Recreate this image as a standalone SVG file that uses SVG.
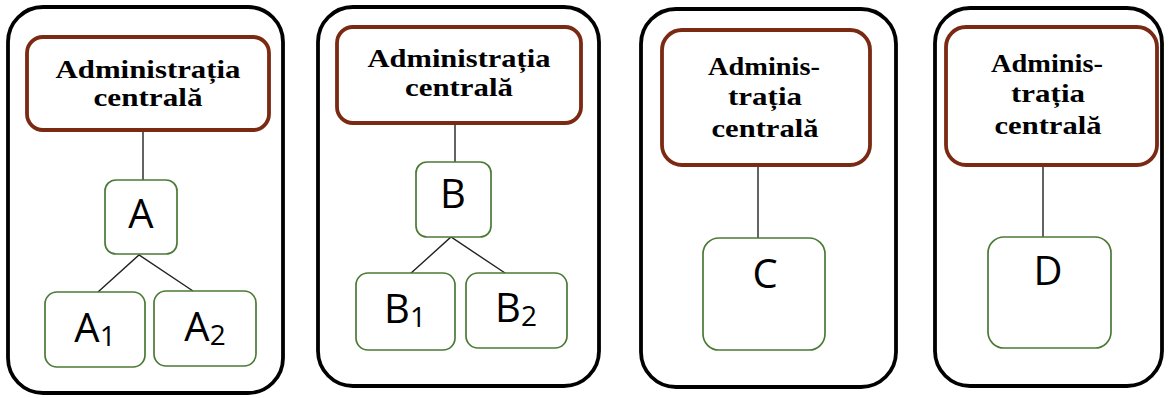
<svg xmlns="http://www.w3.org/2000/svg" width="1170" height="398" viewBox="0 0 1170 398">
<style>
.outer{fill:#fff;stroke:#000;stroke-width:3.8}
.admin{fill:#fff;stroke:#7a2a12;stroke-width:3.8}
.unit{fill:#fff;stroke:#4b7a35;stroke-width:1.7}
.conn{stroke:#222;stroke-width:1.4;fill:none}
.at{font-family:"Liberation Serif","Times New Roman",serif;font-weight:bold;font-size:26px;fill:#000;text-anchor:middle}
.ut{font-family:"Open Sans","Liberation Sans",sans-serif;font-size:40px;fill:#000;text-anchor:middle}
.sub{font-size:28px}
</style>
<rect width="1170" height="398" fill="#fff"/>
<g id="panel-1">
<rect class="outer" x="8" y="7" width="275" height="386" rx="35"/>
</g>
<g id="panel-2">
<rect class="outer" x="318" y="7" width="281" height="379" rx="35"/>
</g>
<g id="panel-3">
<rect class="outer" x="641" y="9" width="255" height="378" rx="35"/>
</g>
<g id="panel-4">
<rect class="outer" x="935" y="8" width="227" height="378" rx="35"/>
</g>
<g id="connectors">
<line class="conn" x1="143" y1="130" x2="143" y2="180"/>
<polyline class="conn" points="98,292 139,255 193,291"/>
<line class="conn" x1="455" y1="123" x2="455" y2="162"/>
<polyline class="conn" points="410,274 451,237 508,275"/>
<line class="conn" x1="758" y1="165" x2="758" y2="238"/>
<line class="conn" x1="1043" y1="165" x2="1043" y2="237"/>
</g>
<g id="admin-1">
<rect class="admin" x="27" y="37" width="242" height="93" rx="16"/>
<text class="at" x="148" y="78" textLength="185" lengthAdjust="spacingAndGlyphs">Administrația</text>
<text class="at" x="148" y="106" textLength="109" lengthAdjust="spacingAndGlyphs">centrală</text>
</g>
<g id="node-A">
<rect class="unit" x="105" y="180" width="72" height="74" rx="11"/>
<text class="ut" x="141" y="228">A</text>
</g>
<g id="node-A1">
<rect class="unit" x="45" y="292" width="100" height="75" rx="12"/>
<text class="ut" x="95" y="342">A<tspan class="sub" dy="4">1</tspan></text>
</g>
<g id="node-A2">
<rect class="unit" x="154" y="291" width="102" height="75" rx="12"/>
<text class="ut" x="205" y="341">A<tspan class="sub" dy="4">2</tspan></text>
</g>
<g id="admin-2">
<rect class="admin" x="337" y="27" width="244" height="96" rx="16"/>
<text class="at" x="459" y="67" textLength="183" lengthAdjust="spacingAndGlyphs">Administrația</text>
<text class="at" x="459" y="96" textLength="108" lengthAdjust="spacingAndGlyphs">centrală</text>
</g>
<g id="node-B">
<rect class="unit" x="416" y="162" width="75" height="75" rx="11"/>
<text class="ut" x="453" y="208">B</text>
</g>
<g id="node-B1">
<rect class="unit" x="356" y="273" width="99" height="77" rx="12"/>
<text class="ut" x="405" y="323">B<tspan class="sub" dy="4">1</tspan></text>
</g>
<g id="node-B2">
<rect class="unit" x="466" y="273" width="101" height="75" rx="12"/>
<text class="ut" x="516" y="322">B<tspan class="sub" dy="4">2</tspan></text>
</g>
<g id="admin-3">
<rect class="admin" x="662" y="30" width="208" height="135" rx="20"/>
<text class="at" x="764" y="75" textLength="112" lengthAdjust="spacingAndGlyphs">Adminis-</text>
<text class="at" x="765" y="105" textLength="74" lengthAdjust="spacingAndGlyphs">trația</text>
<text class="at" x="765" y="137" textLength="107" lengthAdjust="spacingAndGlyphs">centrală</text>
</g>
<g id="node-C">
<rect class="unit" x="703" y="238" width="122" height="112" rx="16"/>
<text class="ut" x="765" y="288">C</text>
</g>
<g id="admin-4">
<rect class="admin" x="946" y="27" width="211" height="138" rx="20"/>
<text class="at" x="1047" y="72" textLength="112" lengthAdjust="spacingAndGlyphs">Adminis-</text>
<text class="at" x="1048" y="102" textLength="74" lengthAdjust="spacingAndGlyphs">trația</text>
<text class="at" x="1048" y="134" textLength="107" lengthAdjust="spacingAndGlyphs">centrală</text>
</g>
<g id="node-D">
<rect class="unit" x="988" y="237" width="123" height="111" rx="16"/>
<text class="ut" x="1048" y="285">D</text>
</g>
</svg>
